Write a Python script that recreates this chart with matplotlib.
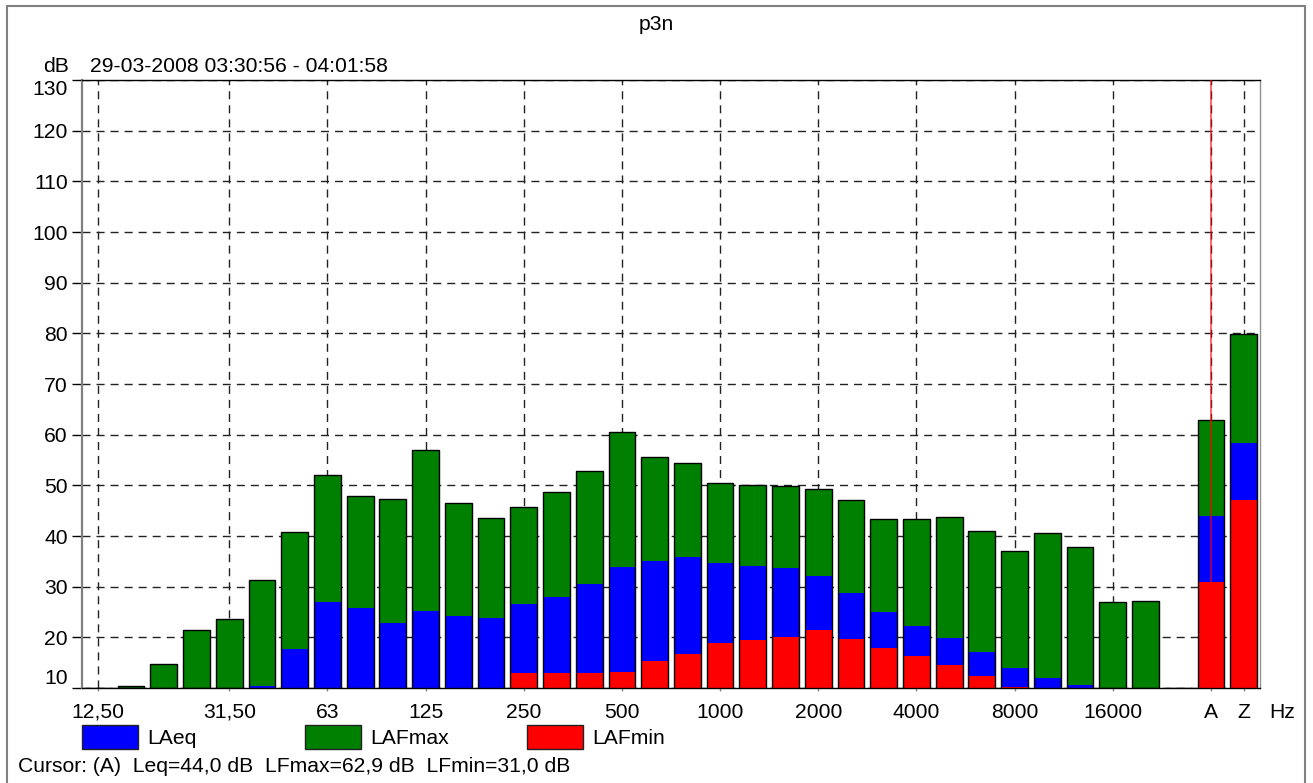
import matplotlib
matplotlib.use("Agg")
import matplotlib.pyplot as plt
from matplotlib.patches import Rectangle
import numpy as np

plt.rcParams['font.family'] = ['Liberation Sans', 'DejaVu Sans']

# ---- data ----
bands = ["12,5", "16", "20", "25", "31,5", "40", "50", "63", "80", "100", "125", "160",
         "200", "250", "315", "400", "500", "630", "800", "1000", "1250", "1600", "2000",
         "2500", "3150", "4000", "5000", "6300", "8000", "10000", "12500", "16000", "20000",
         "", "A", "Z"]
LAFmax = [10.0, 10.4, 14.7, 21.5, 23.6, 31.3, 40.7, 52.1, 47.8, 47.4, 57.0, 46.5,
          43.5, 45.7, 48.6, 52.8, 60.5, 55.6, 54.4, 50.4, 50.0, 49.8, 49.2,
          47.2, 43.4, 43.3, 43.7, 41.0, 37.1, 40.5, 37.8, 26.9, 27.1,
          10.0, 62.9, 79.9]
LAeq = [10.0, 10.0, 10.0, 10.0, 10.0, 10.3, 17.6, 27.0, 25.8, 22.8, 25.1, 24.2,
        23.8, 26.6, 28.0, 30.6, 33.9, 35.1, 35.9, 34.7, 34.1, 33.7, 32.1,
        28.7, 25.0, 22.2, 19.9, 17.1, 13.9, 12.0, 10.5, 10.0, 10.0,
        10.0, 44.0, 58.3]
LAFmin = [10.0, 10.0, 10.0, 10.0, 10.0, 10.0, 10.0, 10.0, 10.0, 10.0, 10.0, 10.0,
          10.0, 13.0, 13.0, 13.0, 13.2, 15.3, 16.7, 18.9, 19.5, 20.1, 21.4,
          19.7, 17.9, 16.3, 14.5, 12.4, 10.2, 10.0, 10.0, 10.0, 10.0,
          10.0, 31.0, 47.1]
tick_idx = [0, 4, 7, 10, 13, 16, 19, 22, 25, 28, 31, 34, 35]
tick_labels = ["12,50", "31,50", "63", "125", "250", "500", "1000", "2000",
               "4000", "8000", "16000", "A", "Z"]
y_ticks = [10, 20, 30, 40, 50, 60, 70, 80, 90, 100, 110, 120, 130]
series_names = ["LAeq", "LAFmax", "LAFmin"]
series_colors = ["#0000ff", "#008000", "#ff0000"]
title = "p3n"
period = "29-03-2008 03:30:56 - 04:01:58"
cursor_text = "Cursor: (A)  Leq=44,0 dB  LFmax=62,9 dB  LFmin=31,0 dB"
cursor_pos = 34

W, H = 1313, 783
fig = plt.figure(figsize=(W / 100, H / 100), dpi=100)
FS = 15.2

def fx(px):
    return px / W

def fy(py):
    return 1 - py / H

ax = fig.add_axes([fx(82), fy(688), fx(1260) - fx(82), fy(80) - fy(688)])

x = np.arange(len(bands))
base = 10
bw = 0.82
mx = np.array(LAFmax)
eq = np.array(LAeq)
mn = np.array(LAFmin)
ax.bar(x, mx - base, bottom=base, width=bw, color=series_colors[1], edgecolor='none', zorder=2)
ax.bar(x, eq - base, bottom=base, width=bw, color=series_colors[0], edgecolor='none', zorder=3)
ax.bar(x, mn - base, bottom=base, width=bw, color=series_colors[2], edgecolor='none', zorder=4)
top = np.maximum(np.maximum(mx, eq), mn)
ax.bar(x, top - base, bottom=base, width=bw, fill=False, edgecolor='black', linewidth=1.0, zorder=5)

ax.axvline(cursor_pos, color=(1, 0, 0, 0.65), linewidth=1.3, zorder=6)

ax.set_xlim(-0.5, len(bands) - 0.5)
ax.set_ylim(10, 130)
ax.set_xticks(tick_idx)
ax.set_xticklabels(tick_labels, fontsize=FS)
ax.set_yticks(y_ticks)
ax.set_yticklabels([str(v) for v in y_ticks], fontsize=FS)
ylabs = ax.get_yticklabels()
ylabs[-1].set_verticalalignment('top')
ylabs[0].set_verticalalignment('bottom')

ax.tick_params(axis='y', direction='out', length=7.2, width=1.0, color='black', pad=3)
ax.tick_params(axis='x', direction='out', length=2.5, width=1.0, color='#888888', pad=8)

ax.grid(True, which='major', color='#222222', linestyle=(0, (5.8, 4.3)), linewidth=1.0, zorder=1)
ax.set_axisbelow(True)

ax.spines['left'].set_color('#808080')
ax.spines['left'].set_linewidth(1.6)
ax.spines['right'].set_color('#909090')
ax.spines['right'].set_linewidth(1.0)
ax.spines['top'].set_color('black')
ax.spines['top'].set_linewidth(1.0)
ax.spines['bottom'].set_color('black')
ax.spines['bottom'].set_linewidth(1.0)

# outer frame
fig.add_artist(Rectangle((fx(7), fy(820)), fx(1305) - fx(7), fy(6) - fy(820),
                         transform=fig.transFigure, fill=False,
                         edgecolor='#808080', linewidth=1.5))

fig.text(fx(656), fy(25), title, ha='center', va='center', fontsize=FS)
fig.text(fx(69), fy(67), "dB", ha='right', va='center', fontsize=FS)
fig.text(fx(90), fy(67), period, ha='left', va='center', fontsize=FS)
fig.text(fx(1282), fy(712), "Hz", ha='center', va='center', fontsize=FS)

# legend
leg_x = [82, 305, 527]
for name, col, lx in zip(series_names, series_colors, leg_x):
    fig.add_artist(Rectangle((fx(lx), fy(749)), fx(56), 24 / H, transform=fig.transFigure,
                             facecolor=col, edgecolor='#222222', linewidth=1.0))
    fig.text(fx(lx + 65), fy(738), name, ha='left', va='center', fontsize=FS)

fig.text(fx(18), fy(766), cursor_text, ha='left', va='center', fontsize=FS)

fig.savefig("out.png", dpi=100)
